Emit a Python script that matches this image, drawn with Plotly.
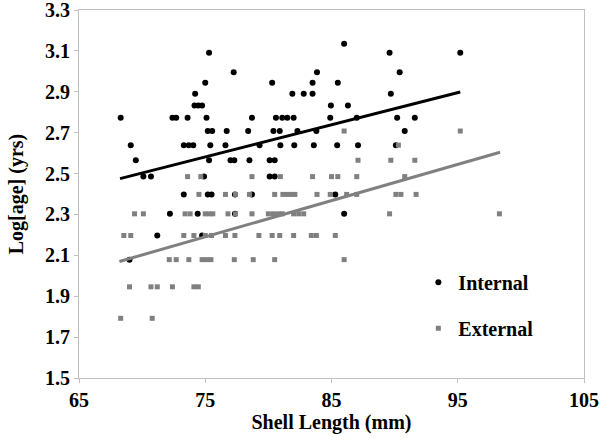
import plotly.graph_objects as go

# ---- data ----
internal_x = [86.0,
              75.3, 89.6, 95.2,
              77.25, 83.85, 90.4,
              75.0, 80.3, 83.5, 85.5,
              74.2, 81.9, 82.8, 83.5, 89.7,
              74.15, 74.45, 74.75, 84.95, 86.3,
              68.3, 72.4, 72.7, 73.6, 75.1, 78.7, 80.6, 81.1, 81.5, 82.0, 84.9, 87.0, 90.2, 91.6,
              75.2, 75.55, 76.7, 78.4, 80.4, 80.9, 82.3, 83.8, 90.8,
              69.1, 73.3, 73.7, 74.05, 75.4, 76.6, 79.3, 80.95, 82.05, 83.6, 85.45, 87.1, 90.1,
              69.5, 75.3, 77.0, 77.3, 78.5, 80.1, 80.5,
              70.1, 70.7, 74.9, 80.1, 80.5,
              73.3, 75.2, 75.5, 77.35, 78.7, 85.3,
              72.2, 74.4, 77.35, 86.0,
              71.2, 74.75,
              69.0]
internal_y = [3.135,
              3.091, 3.091, 3.091,
              2.996, 2.996, 2.996,
              2.944, 2.944, 2.944, 2.944,
              2.890, 2.890, 2.890, 2.890, 2.890,
              2.833, 2.833, 2.833, 2.833, 2.833,
              2.773, 2.773, 2.773, 2.773, 2.773, 2.773, 2.773, 2.773, 2.773, 2.773, 2.773, 2.773, 2.773, 2.773,
              2.708, 2.708, 2.708, 2.708, 2.708, 2.708, 2.708, 2.708, 2.708,
              2.639, 2.639, 2.639, 2.639, 2.639, 2.639, 2.639, 2.639, 2.639, 2.639, 2.639, 2.639, 2.639,
              2.565, 2.565, 2.565, 2.565, 2.565, 2.565, 2.565,
              2.485, 2.485, 2.485, 2.485, 2.485,
              2.398, 2.398, 2.398, 2.398, 2.398, 2.398,
              2.303, 2.303, 2.303, 2.303,
              2.197, 2.197,
              2.079]

external_x = [86.0, 95.2,
              90.3,
              87.1, 89.7, 91.6,
              73.6, 74.65, 78.7, 80.95, 83.5, 85.0, 85.5, 87.0, 90.8,
              74.5, 76.6, 77.4, 78.5, 80.5, 81.15, 81.5, 81.8, 82.1, 83.85, 84.9, 86.2, 87.0, 90.1, 90.5, 91.7,
              69.4, 70.1, 73.4, 73.8, 75.0, 75.3, 75.6, 76.8, 77.4, 78.7, 80.0, 80.4, 80.8, 81.1, 82.0, 82.4, 82.8, 89.6, 98.3,
              68.55, 69.1, 73.3, 74.1, 75.0, 75.5, 76.6, 77.35, 79.25, 80.3, 80.9, 82.0, 83.4, 83.8, 85.3,
              72.15, 72.7, 73.7, 74.75, 75.1, 75.45, 77.3, 78.8, 80.5, 86.0,
              69.0, 70.7, 71.2, 72.4, 74.1, 74.45,
              68.3, 70.8]
external_y = [2.708, 2.708,
              2.639,
              2.565, 2.565, 2.565,
              2.485, 2.485, 2.485, 2.485, 2.485, 2.485, 2.485, 2.485, 2.485,
              2.398, 2.398, 2.398, 2.398, 2.398, 2.398, 2.398, 2.398, 2.398, 2.398, 2.398, 2.398, 2.398, 2.398, 2.398, 2.398,
              2.303, 2.303, 2.303, 2.303, 2.303, 2.303, 2.303, 2.303, 2.303, 2.303, 2.303, 2.303, 2.303, 2.303, 2.303, 2.303, 2.303, 2.303, 2.303,
              2.197, 2.197, 2.197, 2.197, 2.197, 2.197, 2.197, 2.197, 2.197, 2.197, 2.197, 2.197, 2.197, 2.197, 2.197,
              2.079, 2.079, 2.079, 2.079, 2.079, 2.079, 2.079, 2.079, 2.079, 2.079,
              1.946, 1.946, 1.946, 1.946, 1.946, 1.946,
              1.792, 1.792]

internal_trend_x = [68.25, 95.2]
internal_trend_y = [2.475, 2.899]
external_trend_x = [68.2, 98.35]
external_trend_y = [2.07, 2.604]

x_ticks = [65, 75, 85, 95, 105]
y_ticks = [1.5, 1.7, 1.9, 2.1, 2.3, 2.5, 2.7, 2.9, 3.1, 3.3]

GRAY = "#808080"
FRAME = "#c0c0c0"
FONT = dict(family="Liberation Serif", size=20, color="black", weight="bold")

fig = go.Figure()
fig.add_trace(go.Scatter(x=internal_x, y=internal_y, mode="markers", name="Internal",
                         legendgroup="a",
                         marker=dict(symbol="circle", size=6, color="black")))
fig.add_trace(go.Scatter(x=external_x, y=external_y, mode="markers", name="External",
                         legendgroup="b",
                         marker=dict(symbol="square", size=5, color=GRAY)))
fig.add_trace(go.Scatter(x=internal_trend_x, y=internal_trend_y, mode="lines",
                         showlegend=False, line=dict(color="black", width=3)))
fig.add_trace(go.Scatter(x=external_trend_x, y=external_trend_y, mode="lines",
                         showlegend=False, line=dict(color=GRAY, width=3)))

fig.update_layout(
    width=600, height=438,
    margin=dict(l=79, r=16, t=10, b=60, autoexpand=False),
    paper_bgcolor="white", plot_bgcolor="white",
    font=FONT,
    showlegend=True,
    legend=dict(x=0.672, y=0.313, xanchor="left", yanchor="top",
                bgcolor="rgba(0,0,0,0)", font=FONT, itemwidth=30,
                traceorder="grouped", tracegroupgap=17),
)
fig.update_xaxes(range=[65, 105], tickmode="array", tickvals=x_ticks,
                 ticktext=[str(v) for v in x_ticks],
                 showgrid=False, zeroline=False, automargin=False,
                 showline=True, linecolor=FRAME, linewidth=1, mirror=True,
                 ticks="outside", ticklen=4, tickcolor=FRAME,
                 tickfont=FONT, ticklabeloverflow="allow",
                 title=dict(text="Shell Length (mm)", font=FONT, standoff=0))
fig.update_yaxes(range=[1.5, 3.3], tickmode="array", tickvals=y_ticks,
                 ticktext=[f"{v:.1f}" for v in y_ticks],
                 showgrid=False, zeroline=False, automargin=False,
                 showline=True, linecolor=FRAME, linewidth=1, mirror=True,
                 ticks="outside", ticklen=4, tickcolor=FRAME,
                 tickfont=FONT, ticklabeloverflow="allow",
                 title=dict(text="Log[age] (yrs)", font=FONT, standoff=16))

fig.write_html("out.html", config={"displayModeBar": False},
               post_script="document.body.style.margin='0';")
